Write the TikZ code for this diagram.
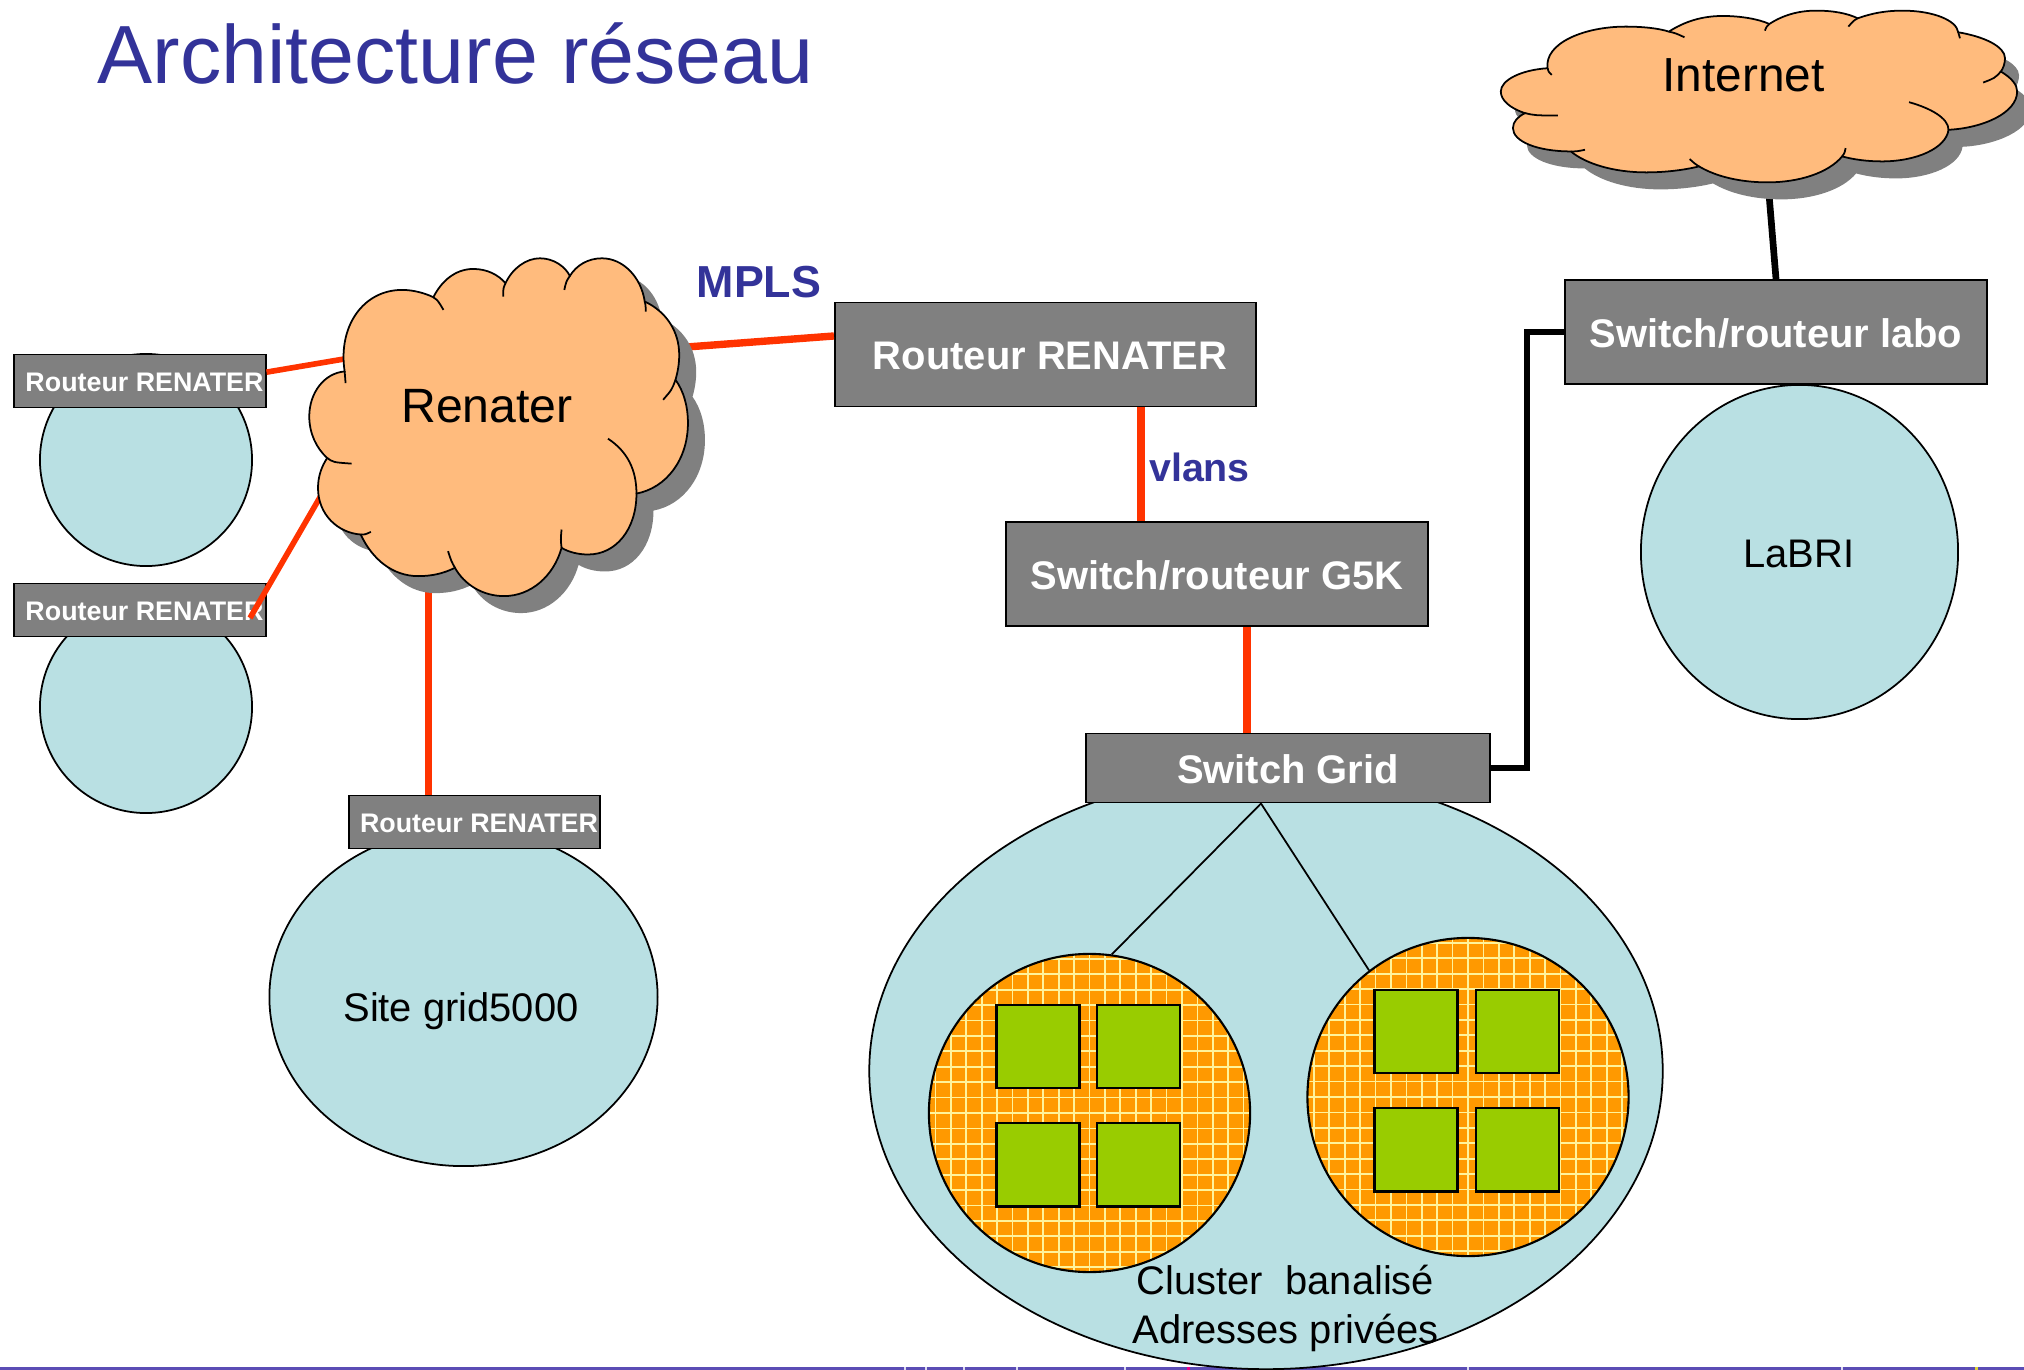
\documentclass[tikz,border=0pt]{standalone}
\usepackage{fontspec}
\setmainfont{Liberation Sans}
\usetikzlibrary{shapes.geometric, positioning}

\definecolor{titleblue}{HTML}{333399}
\definecolor{cloudorange}{HTML}{FFBB7D}
\definecolor{siteblue}{HTML}{B9E0E3}
\definecolor{boxgray}{HTML}{808080}
\definecolor{linkred}{HTML}{FF3300}
\definecolor{nodegreen}{HTML}{99CC00}
\definecolor{discorange}{HTML}{FF9900}
\definecolor{gridyellow}{HTML}{FFF39A}
\definecolor{bandpurple}{HTML}{5B4DB5}

% cloud outlines, written in the pixels of a crop
\newcommand{\renaterpath}{(750,395)
  .. controls (735,260) and (790,150) .. (875,150)
  .. controls (900,150) and (925,160) .. (943,172)
  .. controls (960,125) and (990,87) .. (1030,87)
  .. controls (1060,87) and (1085,105) .. (1100,130)
  .. controls (1115,85) and (1145,55) .. (1175,55)
  .. controls (1205,55) and (1230,80) .. (1240,108)
  .. controls (1255,75) and (1280,55) .. (1310,55)
  .. controls (1355,55) and (1395,110) .. (1403,185)
  .. controls (1450,215) and (1478,275) .. (1478,345)
  .. controls (1478,372) and (1475,395) .. (1470,420)
  .. controls (1488,455) and (1497,500) .. (1497,550)
  .. controls (1497,660) and (1450,745) .. (1385,762)
  .. controls (1385,870) and (1340,945) .. (1280,945)
  .. controls (1258,945) and (1238,938) .. (1222,925)
  .. controls (1205,1010) and (1155,1070) .. (1097,1070)
  .. controls (1050,1070) and (1010,1035) .. (990,985)
  .. controls (965,1002) and (940,1010) .. (910,1010)
  .. controls (855,1010) and (810,960) .. (785,885)
  .. controls (735,880) and (692,825) .. (692,745)
  .. controls (692,710) and (700,680) .. (712,655)
  .. controls (688,625) and (673,580) .. (673,530)
  .. controls (673,460) and (705,400) .. (750,395) -- cycle}
\newcommand{\internetpath}{(195,205)
  .. controls (185,130) and (300,80) .. (420,80)
  .. controls (470,80) and (515,85) .. (545,95)
  .. controls (590,65) and (640,48) .. (700,48)
  .. controls (755,48) and (805,58) .. (835,72)
  .. controls (875,45) and (920,32) .. (970,32)
  .. controls (1020,32) and (1060,40) .. (1090,55)
  .. controls (1130,40) and (1170,32) .. (1220,32)
  .. controls (1305,32) and (1375,60) .. (1380,97)
  .. controls (1455,110) and (1515,140) .. (1515,175)
  .. controls (1515,190) and (1510,205) .. (1503,215)
  .. controls (1535,235) and (1550,255) .. (1550,275)
  .. controls (1550,340) and (1450,385) .. (1352,390)
  .. controls (1345,445) and (1260,485) .. (1160,485)
  .. controls (1120,485) and (1080,480) .. (1045,470)
  .. controls (1005,520) and (920,548) .. (830,548)
  .. controls (750,548) and (680,530) .. (632,500)
  .. controls (585,512) and (530,518) .. (480,518)
  .. controls (385,518) and (305,492) .. (262,455)
  .. controls (165,455) and (95,425) .. (95,385)
  .. controls (95,365) and (110,350) .. (130,340)
  .. controls (85,325) and (60,300) .. (60,275)
  .. controls (60,240) and (120,210) .. (195,205) -- cycle}

\begin{document}
\begin{tikzpicture}[
        x=0.01cm, y=-0.01cm,
        node distance=0.2cm,
        site/.style={ellipse, draw, fill=siteblue, inner sep=0pt, line width=0.5pt},
        sitelabel/.style={align=center, font=\fontsize{11.35}{14}\selectfont},
        router/.style={rectangle, draw, fill=boxgray, text=white, inner sep=0pt, line width=0.55pt, font=\fontsize{11.35}{14}\bfseries\selectfont, minimum width=4.21cm, minimum height=1.04cm, text height=8.8pt, text depth=0pt},
        nudged/.style={execute at begin node=\hspace*{0.09cm}},
        smallrouter/.style={router, nudged, minimum width=2.51cm, minimum height=0.53cm, font=\fontsize{7.63}{9}\bfseries\selectfont, text height=5.8pt},
        disc/.style={ellipse, draw, fill=discorange, inner sep=0pt, line width=0.6pt, minimum width=3.21cm, minimum height=3.18cm,
            path picture={\draw[gridyellow, line width=0.5pt, step=0.154cm, shift={(#1,-0.065cm)}] (-2cm,-2cm) grid (2cm,2cm);}},
        server/.style={rectangle, draw, fill=nodegreen, inner sep=0pt, line width=0.65pt, minimum size=0.83cm},
        redlink/.style={linkred, line width=2.1pt},
        redthin/.style={linkred, line width=1.6pt},
        blacklink/.style={black, line width=1.9pt},
        thinlink/.style={black, line width=0.5pt},
        bluelabel/.style={text=titleblue, font=\bfseries\selectfont},
        cloudshape/.style={fill=cloudorange, draw, line width=0.5pt},
        cloudtick/.style={draw, line width=0.5pt}
    ]
    \useasboundingbox (0,0) rectangle (2024,1370);

    % Bottom band
    \fill[bandpurple] (0,1367) rectangle (2024,1370);
    \foreach \tickx in {904,925,963,1016,1124,1467,1841}
        \fill[white!80!bandpurple] (\tickx,1367) rectangle ++(1.5,3);
    \fill[magenta] (1187,1367) rectangle ++(3,3);
    \fill[yellow!80!bandpurple] (1975,1367) rectangle ++(3,3);

    % Title
    \node[anchor=base west, inner sep=0pt, text=titleblue, font=\fontsize{23.48}{28}\selectfont] (title) at (97,84) {Architecture réseau};

    % Sites
    \node[site, minimum width=2.12cm, minimum height=2.12cm] (siteA) at (146,460) {};
    \node[site, minimum width=2.12cm, minimum height=2.12cm] (siteB) at (146,707) {};
    \node[site, minimum width=3.88cm, minimum height=3.38cm] (siteC) at (463.5,997) {};
    \node[site, minimum width=3.17cm, minimum height=3.34cm] (labri) at (1799.5,552) {};
    \node[site, minimum width=7.93cm, minimum height=5.96cm] (cluster) at (1266,1071) {};

    \node[sitelabel] (siteClabel) at (461,1011) {Site grid5000};
    \node[sitelabel] (labrilabel) at (1799,554) {LaBRI};

    % Disks and servers
    \node[disc=-0.058cm] (discA) at (1089.5,1113) {};
    \node[disc=0.001cm] (discB) at (1468,1097) {};

    \node[server] (serverA) at (1038,1046.5) {};
    \node[server, right=0.15cm of serverA] (serverB) {};
    \node[server, below=0.33cm of serverA] (serverC) {};
    \node[server, right=0.15cm of serverC] (serverD) {};

    \node[server] (serverE) at (1416,1031.5) {};
    \node[server, right=0.16cm of serverE] (serverF) {};
    \node[server, below=0.33cm of serverE] (serverG) {};
    \node[server, right=0.16cm of serverG] (serverH) {};

    \node[sitelabel] (clusterlabel) at (1285.5,1308.5) {Cluster~~banalisé\\Adresses privées};

    % Routers
    \node[smallrouter] (routerA) at (140,381) {Routeur RENATER};
    \node[smallrouter] (routerB) at (140,610) {Routeur RENATER};
    \node[smallrouter] (routerC) at (474.5,822) {Routeur RENATER};
    \node[router, nudged] (renaterbox) at (1045.5,354.5) {Routeur RENATER};
    \node[router] (g5k) at (1217,574) {Switch/routeur G5K};
    \node[router, minimum width=4.04cm, minimum height=0.69cm] (grid) at (1288,768) {Switch Grid};
    \node[router] (labo) at (1776,332) {Switch/routeur labo};

    % Labels
    \node[bluelabel, font=\fontsize{12.75}{15}\bfseries\selectfont] (mpls) at (759,282) {MPLS};
    \node[bluelabel, font=\fontsize{11.2}{14}\bfseries\selectfont] (vlans) at (1199.5,467) {vlans};

    % Free ends under the clouds
    \coordinate (renaterW) at (350,358);
    \coordinate (renaterSW) at (330,480);
    \coordinate (renaterS) at (428.5,580);
    \coordinate (renaterE) at (680,347.5);
    \coordinate (internetS) at (1767,170);
    \coordinate (routerBend) at (250,618);

    % Arrows
    \draw[redthin] (routerA.4) -- (renaterW);
    \draw[redthin] (routerBend) -- (renaterSW);
    \draw[redlink, line width=1.9pt] (renaterS) -- (renaterS |- routerC.north);
    \draw[redlink] (renaterE) -- (renaterbox.175.3);
    \draw[redlink] ([xshift=0.955cm]renaterbox.south) -- ([xshift=0.955cm]renaterbox.south |- g5k.north);
    \draw[redlink] ([xshift=0.30cm]g5k.south) -- ([xshift=0.30cm]g5k.south |- grid.north);
    \draw[blacklink] (grid.east) -- ++(36,0) |- (labo.west);
    \draw[blacklink] (internetS) -- (labo.north);
    \draw[thinlink] ([xshift=-0.27cm]grid.south) -- (discA.82);
    \draw[thinlink] ([xshift=-0.27cm]grid.south) -- (discB.128);

    % Renater cloud
    \begin{scope}[shift={(17,257)}, x=0.00459cm, y=-0.003333cm]
        \fill[boxgray] \renaterpath;
    \end{scope}
    \begin{scope}[shift={(0,240)}, x=0.00459cm, y=-0.003333cm]
        \path[cloudshape] \renaterpath;
        \path[cloudtick] (943,172) .. controls (953,182) .. (965,210)
            (1100,130) .. controls (1095,145) .. (1095,170)
            (1240,108) .. controls (1232,125) .. (1228,150)
            (1403,185) .. controls (1405,195) .. (1405,215)
            (1470,420) .. controls (1462,450) .. (1443,480)
            (1385,762) .. controls (1385,690) and (1365,635) .. (1323,597)
            (1222,925) .. controls (1220,900) .. (1222,870)
            (990,985) .. controls (982,965) .. (975,935)
            (785,885) .. controls (795,885) .. (807,877)
            (712,655) .. controls (725,668) .. (765,672)
            (750,395) .. controls (750,410) .. (752,430);
    \end{scope}
    \node[font=\fontsize{13.7}{16}\selectfont] (renater) at (487,406) {Renater};

    % Internet cloud
    \begin{scope}[shift={(1494,17)}, x=0.00347cm, y=-0.003333cm]
        \fill[boxgray] \internetpath;
    \end{scope}
    \begin{scope}[shift={(1480,0)}, x=0.00347cm, y=-0.003333cm]
        \path[cloudshape] \internetpath;
        \path[cloudtick] (545,95) .. controls (565,100) .. (590,112)
            (835,72) .. controls (828,78) .. (822,92)
            (1090,55) .. controls (1078,62) .. (1063,80)
            (1380,97) .. controls (1385,105) .. (1385,115)
            (1503,215) .. controls (1485,235) .. (1452,248)
            (1352,390) .. controls (1352,355) and (1300,325) .. (1238,307)
            (1045,470) .. controls (1052,460) .. (1055,445)
            (632,500) .. controls (620,492) .. (605,478)
            (262,455) .. controls (280,455) .. (303,450)
            (130,340) .. controls (160,347) .. (225,347)
            (195,205) .. controls (197,215) .. (207,225);
    \end{scope}
    \node[font=\fontsize{13.6}{16}\selectfont] (internet) at (1743.5,75) {Internet};

\end{tikzpicture}
\end{document}
